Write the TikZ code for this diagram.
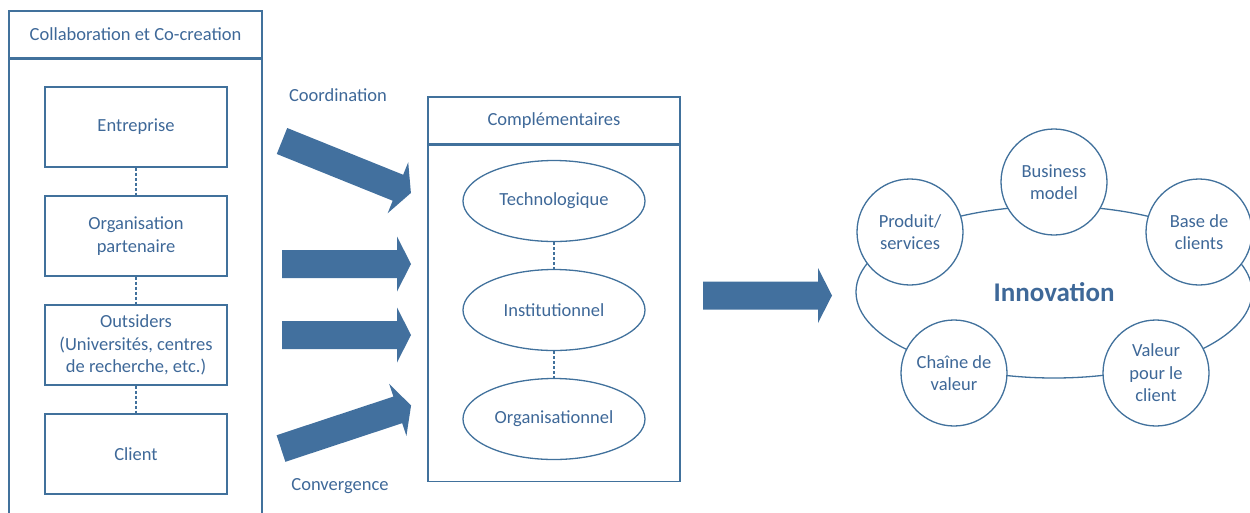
\documentclass[tikz,border=0pt]{standalone}
\usepackage{fontspec}
\setmainfont{Carlito}
\usetikzlibrary{shapes.geometric}
\definecolor{lineblue}{RGB}{65,113,156}
\definecolor{txtblue}{RGB}{62,104,152}
\definecolor{arrowblue}{RGB}{66,112,158}
\newcommand\blockarrow[4]{%
  \fill[arrowblue, shift={(#1,#2)}, rotate=#3]
    (0,-14) -- ({#4-14},-14) -- ({#4-14},-27.5) -- (#4,0) -- ({#4-14},27.5) -- ({#4-14},14) -- (0,14) -- cycle;}
\begin{document}
\begin{tikzpicture}[x=1pt,y=-1pt,
  every node/.style={text=txtblue, font=\fontsize{18.5}{22.5}\selectfont, align=center, inner sep=0pt},
  frame/.style={draw=lineblue, line width=1.3pt, minimum width=253pt},
  box/.style={draw=lineblue, line width=1.3pt, minimum width=182pt, minimum height=80pt},
  ell/.style={ellipse, draw=lineblue, line width=1.3pt, minimum width=182pt, minimum height=81pt},
  circ/.style={circle, draw=lineblue, line width=1.3pt, minimum size=106pt, fill=white},
  dotline/.style={draw=lineblue, line width=1.5pt, dash pattern=on 3pt off 2pt},
  plainlbl/.style={}]
\useasboundingbox (0,0) rectangle (1250,512);

% left frame
\node[frame, minimum height=47pt] (colhead) at (135.5,34.5) {Collaboration et Co-creation};
\node[frame, minimum height=472pt, anchor=north] (colbody) at (colhead.south) {};
\node[box] (ent) at (136,127) {Entreprise};
\node[box] (org) at (136,236) {Organisation\\partenaire};
\node[box] (out) at (136,345) {Outsiders\\(Universités, centres\\de recherche, etc.)};
\node[box] (cli) at (136,454) {Client};
\draw[dotline] (ent.south) -- (org.north);
\draw[dotline] (org.south) -- (out.north);
\draw[dotline] (out.south) -- (cli.north);

% labels
\node[plainlbl] (coord) at (338,95) {Coordination};
\node[plainlbl] (conv) at (340,486) {Convergence};

% arrows into middle
\blockarrow{282}{141}{-21.96}{139}
\blockarrow{282}{264}{0}{129}
\blockarrow{282}{335}{0}{129}
\blockarrow{281}{448.5}{18.3}{137}

% middle frame
\node[frame, minimum width=252pt, minimum height=47pt] (comphead) at (554,120.5) {Complémentaires};
\node[frame, minimum width=252pt, minimum height=336pt, anchor=north] (compbody) at (comphead.south) {};
\node[ell] (tech) at (554,201) {Technologique};
\node[ell] (inst) at (554,310) {Institutionnel};
\node[ell] (orga) at (554,419) {Organisationnel};
\draw[dotline] (tech.south) -- (inst.north);
\draw[dotline] (inst.south) -- (orga.north);

% arrow to innovation
\blockarrow{703}{295.5}{0}{129}

% innovation
\node[ellipse, draw=lineblue, line width=1.3pt, minimum width=396pt, minimum height=172pt,
      font=\fontsize{27}{32}\selectfont\bfseries] (inn) at (1054,292) {Innovation};
\node[circ] (bm) at (1054,182) {Business\\model};
\node[circ] (ps) at (910,232) {Produit/\\services};
\node[circ] (bc) at (1199,232) {Base de\\clients};
\node[circ] (cv) at (954,373) {Chaîne de\\valeur};
\node[circ] (vc) at (1156,373) {Valeur\\pour le\\client};
\end{tikzpicture}
\end{document}
